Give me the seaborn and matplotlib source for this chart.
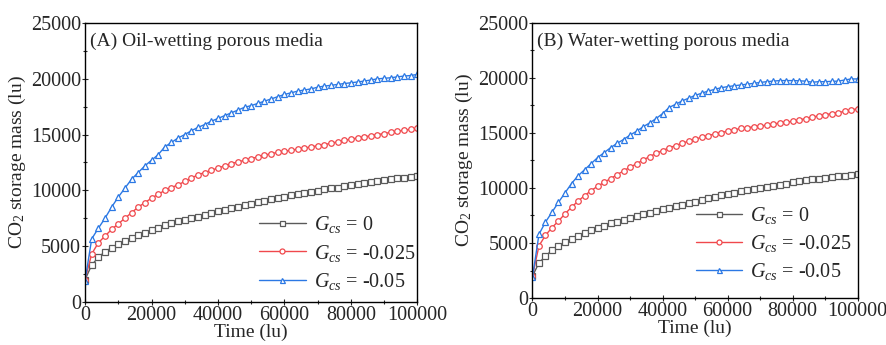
import numpy as np
import matplotlib
matplotlib.use("Agg")
import matplotlib.pyplot as plt
import pandas as pd
import seaborn as sns
from matplotlib.ticker import MultipleLocator

sns.set_style("white")
plt.rcParams['font.family'] = ['Liberation Serif', 'DejaVu Serif']
plt.rcParams['mathtext.fontset'] = 'custom'
plt.rcParams['mathtext.rm'] = 'Liberation Serif'
plt.rcParams['mathtext.it'] = 'Liberation Serif:italic'

# time grid (lu), one marker every 2000 lu
time = np.arange(0, 100001, 2000)

# (A) oil-wetting
oil_g0 = [2000, 3300, 4000, 4500, 4850, 5200, 5500, 5700, 6000, 6200, 6450, 6650, 6850,
          7050, 7250, 7380, 7500, 7650, 7800, 8000, 8150, 8280, 8400, 8550, 8700, 8820,
          8950, 9080, 9200, 9330, 9450, 9550, 9650, 9750, 9850, 9980, 10100, 10180, 10250,
          10380, 10500, 10580, 10650, 10750, 10850, 10920, 11000, 11080, 11150, 11230, 11300]
oil_g025 = [2000, 4300, 5300, 5900, 6500, 7000, 7500, 8000, 8500, 8900, 9300, 9650, 10000,
            10250, 10500, 10800, 11100, 11400, 11600, 11800, 12000, 12200, 12400, 12550,
            12700, 12850, 13000, 13150, 13300, 13400, 13500, 13600, 13700, 13800, 13900,
            14000, 14100, 14230, 14350, 14480, 14600, 14700, 14800, 14900, 15000, 15100,
            15200, 15300, 15400, 15480, 15550]
oil_g05 = [1900, 5650, 6600, 7500, 8500, 9400, 10200, 11000, 11600, 12200, 12700, 13200,
           13900, 14300, 14700, 15000, 15350, 15650, 15900, 16200, 16450, 16700, 16950,
           17200, 17450, 17600, 17800, 18000, 18200, 18400, 18600, 18750, 18900, 19000,
           19100, 19250, 19350, 19420, 19500, 19580, 19650, 19720, 19800, 19900, 20000,
           20050, 20100, 20180, 20250, 20300, 20400]

# (B) water-wetting
wat_g0 = [2000, 3200, 3800, 4350, 4750, 5100, 5400, 5650, 5900, 6150, 6350, 6580, 6800,
          6950, 7100, 7280, 7450, 7600, 7750, 7900, 8050, 8200, 8350, 8480, 8600, 8750,
          8900, 9050, 9200, 9330, 9450, 9580, 9700, 9800, 9900, 10000, 10100, 10200, 10300,
          10400, 10500, 10600, 10700, 10780, 10850, 10930, 11000, 11050, 11100, 11200, 11300]
wat_g025 = [2000, 4750, 5700, 6400, 7000, 7650, 8250, 8800, 9300, 9750, 10150, 10500,
            10850, 11200, 11550, 11880, 12200, 12530, 12850, 13130, 13400, 13630, 13850,
            14050, 14250, 14430, 14600, 14750, 14900, 15030, 15150, 15280, 15400, 15480,
            15550, 15630, 15700, 15800, 15900, 15980, 16050, 16180, 16300, 16430, 16550,
            16650, 16750, 16850, 16950, 17080, 17200]
wat_g05 = [1900, 5800, 6900, 7800, 8700, 9550, 10400, 11100, 11650, 12200, 12750, 13200,
           13650, 14050, 14400, 14800, 15150, 15550, 15900, 16300, 16750, 17300, 17600,
           17900, 18150, 18400, 18600, 18800, 18950, 19100, 19200, 19280, 19350, 19420,
           19500, 19580, 19650, 19700, 19750, 19750, 19750, 19730, 19700, 19600, 19650,
           19650, 19680, 19700, 19800, 19900, 19900]

labels = [r'$G_{cs}$ = 0', r'$G_{cs}$ = -0.025', r'$G_{cs}$ = -0.05']
colors = ['#5a5a5a', '#f0484c', '#2b78e4']
markers = ['s', 'o', '^']

panels = [
    ('(A) Oil-wetting porous media', [oil_g0, oil_g025, oil_g05],
     [0.096, 0.125, 0.375, 0.808], (0.50, 0.008)),
    ('(B) Water-wetting porous media', [wat_g0, wat_g025, wat_g05],
     [0.601, 0.136, 0.367, 0.798], (0.478, 0.03)),
]

fig = plt.figure(figsize=(8.86, 3.45), dpi=100)

for title, series, rect, leg_anchor in panels:
    ax = fig.add_axes(rect)
    for y, lab, c, m in zip(series, labels, colors, markers):
        df = pd.DataFrame({'t': time, 'm': y})
        sns.lineplot(data=df, x='t', y='m', ax=ax, color=c, marker=m, label=lab,
                     linewidth=1.0, markersize=4, markerfacecolor='white',
                     markeredgecolor=c, markeredgewidth=0.9)
    ax.set_xlim(0, 100000)
    ax.set_ylim(0, 25000)
    ax.xaxis.set_major_locator(MultipleLocator(20000))
    ax.xaxis.set_minor_locator(MultipleLocator(10000))
    ax.yaxis.set_major_locator(MultipleLocator(5000))
    ax.yaxis.set_minor_locator(MultipleLocator(2500))
    ax.tick_params(which='major', direction='inout', length=4, width=0.8,
                   labelsize=14.5, pad=1, bottom=True, left=True)
    ax.tick_params(which='minor', direction='inout', length=3, width=0.8,
                   bottom=True, left=True)
    for s in ax.spines.values():
        s.set_color('black')
        s.set_linewidth(1.0)
    ax.set_xlabel('Time (lu)', fontsize=14, labelpad=-1)
    ax.set_ylabel(r'CO$_2$ storage mass (lu)', fontsize=14, labelpad=2)
    ax.text(0.015, 0.965, title, transform=ax.transAxes, fontsize=14,
            va='top', ha='left')
    ax.legend(loc='lower left', bbox_to_anchor=leg_anchor, frameon=False,
              fontsize=14.5, handlelength=2.3, handletextpad=0.4,
              labelspacing=0.35, markerscale=0.9, borderaxespad=0)

fig.savefig('out.png', dpi=100)
